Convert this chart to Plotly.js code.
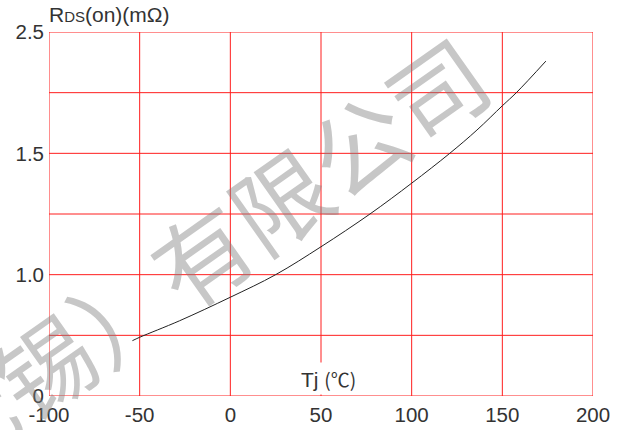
<!DOCTYPE html>
<html>
<head>
<meta charset="utf-8">
<script src="https://cdn.plot.ly/plotly-3.0.1.min.js"></script>
<style>
html,body{margin:0;padding:0;background:#fff;}
#chart{width:619px;height:430px;}
</style>
</head>
<body>
<div id="chart"></div>
<script>
// Junction temperature (°C) and normalized RDS(on)
const tj = [-54, -50, -28, 0, 25, 50, 77, 100, 121, 136, 150, 158, 174];
const rdsOn = [0.728, 0.742, 0.81, 0.907, 1.0, 1.115, 1.25, 1.377, 1.5, 1.596, 1.696, 1.752, 1.88];

// Axis ticks as printed on the original chart
const xTicks = [-100, -50, 0, 50, 100, 150, 200];
const yTickVals = [0.5, 1.0, 1.5, 2.0];
const yTickText = ['0', '1.0', '1.5', '2.5'];
const yGrid = [0.5, 0.75, 1.0, 1.25, 1.5, 1.75, 2.0];

const titleText = 'R<span style="font-size:15px">DS</span>(on)(mΩ)';
const xLabelText = 'Tj <span style="font-family:\'Noto Sans CJK SC\';font-size:19px">(℃)</span>';
const watermarkText = '（无锡）有限公司';

const red = 'rgb(255,30,30)';
const tickFont = {family: '"Liberation Sans", Arial, sans-serif', size: 20.5, color: '#333'};

const trace = {
  x: tj, y: rdsOn, type: 'scatter', mode: 'lines',
  line: {color: '#222', width: 1, shape: 'spline', smoothing: 1},
  hoverinfo: 'skip', showlegend: false
};

const shapes = [];
xTicks.forEach(v => shapes.push({type: 'line', layer: 'below', xref: 'x', yref: 'paper', x0: v, x1: v, y0: 0, y1: 1, line: {color: red, width: 1}}));
yGrid.forEach(v => shapes.push({type: 'line', layer: 'below', xref: 'paper', yref: 'y', x0: 0, x1: 1, y0: v, y1: v, line: {color: red, width: 1}}));

const layout = {
  width: 619, height: 430,
  margin: {l: 49, r: 26, t: 32, b: 34, pad: 0},
  paper_bgcolor: '#fff', plot_bgcolor: '#fff',
  showlegend: false,
  xaxis: {
    range: [-100, 200], tickmode: 'array', tickvals: xTicks,
    ticktext: xTicks.map(String),
    showgrid: false, zeroline: false, showline: false,
    ticks: '', ticklabelstandoff: 4, tickfont: tickFont, fixedrange: true
  },
  yaxis: {
    range: [0.5, 2.0], tickmode: 'array', tickvals: yTickVals, ticktext: yTickText,
    showgrid: false, zeroline: false, showline: false,
    ticks: '', ticklabelstandoff: 4, tickfont: tickFont, fixedrange: true
  },
  shapes: shapes,
  annotations: [
    {
      xref: 'paper', yref: 'paper', x: 0.206, y: 0.316,
      xanchor: 'center', yanchor: 'middle', showarrow: false,
      text: watermarkText, textangle: -35.2,
      font: {family: '"Noto Sans CJK SC", sans-serif', size: 96, color: 'rgba(128,128,128,0.44)'}
    },
    {
      xref: 'paper', yref: 'paper', x: -0.004, y: 1.049,
      xanchor: 'left', yanchor: 'middle', showarrow: false,
      text: titleText,
      font: {family: '"Liberation Sans", Arial, sans-serif', size: 21, color: '#333'}
    },
    {
      xref: 'paper', yref: 'paper', x: 0.513, y: 0.047,
      xanchor: 'center', yanchor: 'middle', showarrow: false,
      text: xLabelText, bgcolor: '#fff', borderpad: 2,
      font: {family: '"Liberation Sans", Arial, sans-serif', size: 21, color: '#333'}
    }
  ]
};

Plotly.newPlot('chart', [trace], layout, {staticPlot: true, displayModeBar: false});
</script>
</body>
</html>
